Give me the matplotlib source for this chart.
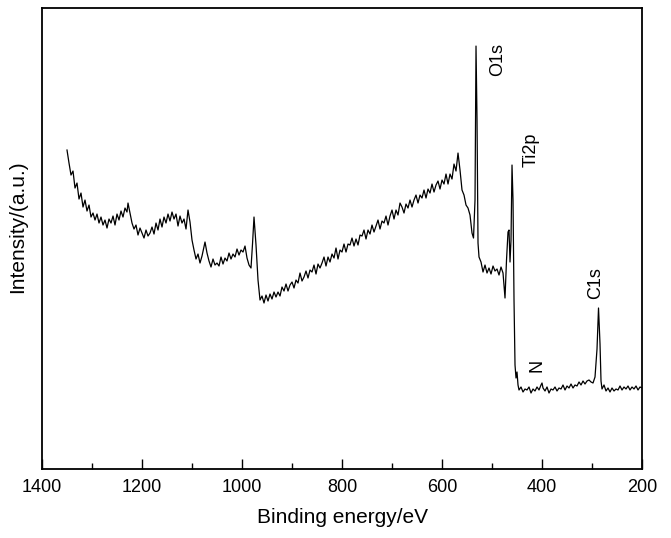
import numpy as np
import matplotlib
matplotlib.use('Agg')
import matplotlib.pyplot as plt
from matplotlib.ticker import MultipleLocator

plt.rcParams['font.family'] = ['Liberation Sans', 'DejaVu Sans']

# XPS survey spectrum, binding energy (eV) and intensity (a.u.)
be_high = [1350, 1346, 1342, 1338, 1334, 1330, 1326, 1322, 1318, 1314, 1310, 1306,
           1302, 1298, 1294, 1290, 1286, 1282, 1278, 1274, 1270, 1266, 1262, 1258,
           1254, 1250, 1246, 1242, 1238, 1234, 1230, 1228, 1224, 1220, 1216, 1212,
           1208, 1204, 1200, 1196, 1192, 1188, 1184, 1180, 1176, 1172, 1168, 1164,
           1160, 1156, 1152, 1148, 1144, 1140, 1136, 1132, 1128, 1124, 1120, 1116,
           1112, 1108, 1104]
int_high = [319, 306, 294, 298, 281, 286, 270, 276, 262, 269, 258, 264,
            252, 256, 249, 255, 246, 252, 244, 249, 241, 250, 246, 253,
            244, 255, 249, 258, 252, 261, 257, 266, 256, 246, 240, 244,
            234, 241, 236, 231, 239, 233, 236, 242, 235, 246, 239, 250,
            242, 252, 246, 255, 248, 257, 250, 255, 243, 253, 246, 250,
            240, 259, 247]

be_mid = [1100, 1096, 1092, 1088, 1084, 1080, 1076, 1074, 1070, 1066, 1062, 1058,
          1054, 1050, 1046, 1042, 1038, 1034, 1030, 1026, 1022, 1018, 1014, 1010,
          1006, 1002, 998, 994, 990, 986, 982, 979, 976, 972, 968, 964,
          960, 956, 952, 948, 944, 940, 936, 932]
int_mid = [229, 219, 210, 215, 206, 213, 222, 227, 216, 208, 202, 210,
           204, 206, 203, 212, 205, 211, 208, 216, 210, 215, 212, 220,
           214, 219, 217, 223, 211, 204, 201, 225, 252, 224, 189, 169,
           173, 166, 174, 168, 175, 170, 177, 172]

be_slope = [928, 924, 920, 916, 912, 908, 904, 900, 896, 892, 888, 884,
            880, 876, 872, 868, 864, 860, 856, 852, 848, 844, 840, 836,
            832, 828, 824, 820, 816, 812, 808, 804, 800, 796, 792, 788,
            784, 780, 776, 772, 768, 764, 760, 756, 752, 748, 744, 740,
            736, 732, 728, 724, 720, 716, 712, 708, 704, 700, 696, 692,
            688, 684, 680, 676, 672, 668, 664, 660, 656, 652, 648, 644,
            640, 636, 632, 628, 624, 620, 616, 612, 608, 604, 600, 596,
            592, 588, 584, 580, 576, 572, 568]
int_slope = [177, 173, 182, 178, 185, 178, 184, 187, 181, 189, 186, 196,
             188, 192, 198, 191, 199, 197, 204, 195, 205, 201, 206, 212,
             203, 212, 207, 215, 211, 221, 210, 219, 217, 225, 217, 225,
             224, 231, 223, 230, 224, 234, 233, 239, 230, 239, 235, 244,
             237, 243, 249, 240, 248, 246, 253, 244, 253, 259, 250, 259,
             254, 266, 262, 256, 265, 261, 269, 262, 269, 274, 266, 274,
             271, 279, 271, 280, 276, 285, 277, 284, 288, 280, 289, 285,
             295, 285, 295, 290, 305, 298, 316]

be_low = [564, 560, 556, 552, 548, 544, 540, 537, 534, 532, 530, 528,
          526, 522, 518, 514, 510, 506, 502, 498, 494, 490, 486, 482,
          478, 476, 474, 471, 468, 466, 464, 462, 460, 458, 456, 454,
          452, 450, 448, 446, 442, 438, 434, 430, 426, 422, 418, 414,
          410, 406, 402, 400, 398, 394, 390, 386, 382, 378, 374, 370,
          366, 362, 358, 354, 350, 346, 342, 338, 334, 330, 326, 322,
          318, 314, 310, 306, 302, 298, 294, 290, 287, 284, 282, 280,
          276, 272, 268, 264, 260, 256, 252, 248, 244, 240, 236, 232,
          228, 224, 220, 216, 212, 208, 204, 200]
int_low = [299, 279, 274, 264, 261, 254, 236, 231, 269, 423, 350, 226,
           212, 207, 197, 204, 196, 201, 195, 203, 198, 200, 194, 202,
           196, 184, 171, 209, 237, 239, 207, 229, 304, 269, 169, 104,
           91, 97, 84, 79, 82, 77, 80, 79, 82, 76, 80, 78,
           82, 79, 84, 86, 81, 78, 82, 76, 80, 79, 82, 78,
           81, 80, 84, 79, 83, 81, 85, 81, 84, 83, 87, 84,
           88, 85, 88, 89, 87, 86, 92, 120, 161, 125, 88, 80,
           84, 78, 81, 77, 81, 78, 80, 79, 83, 79, 82, 80,
           83, 79, 82, 80, 83, 79, 82, 81]

peak_names = ['O1s', 'Ti2p', 'N', 'C1s']
peak_label_be = [488, 422, 410, 292]
peak_label_int = [410, 319, 104, 186]

be = np.array(be_high + be_mid + be_slope + be_low)
intensity = np.array(int_high + int_mid + int_slope + int_low)

fig = plt.figure(figsize=(6.71, 5.38), dpi=100)
ax = fig.add_axes([0.0626, 0.1283, 0.8942, 0.8567])

ax.plot(be, intensity, color='black', linewidth=0.9)

for name, x, y in zip(peak_names, peak_label_be, peak_label_int):
    ax.text(x, y, name, rotation=90, ha='center', va='center', fontsize=13)

ax.set_xlim(1400, 200)
ax.set_ylim(0, 461)
ax.xaxis.set_major_locator(MultipleLocator(200))
ax.xaxis.set_minor_locator(MultipleLocator(100))
ax.tick_params(axis='x', which='major', direction='in', length=7, width=1,
               labelsize=13, pad=7, top=False)
ax.tick_params(axis='x', which='minor', direction='in', length=4, width=1, top=False)
ax.set_yticks([])

for sp in ax.spines.values():
    sp.set_linewidth(1.3)

ax.set_xlabel('Binding energy/eV', fontsize=15, labelpad=9)
ax.set_ylabel('Intensity/(a.u.)', fontsize=15, labelpad=8)
ax.yaxis.set_label_coords(-0.025, 0.525)

fig.savefig('out.png', dpi=100)
